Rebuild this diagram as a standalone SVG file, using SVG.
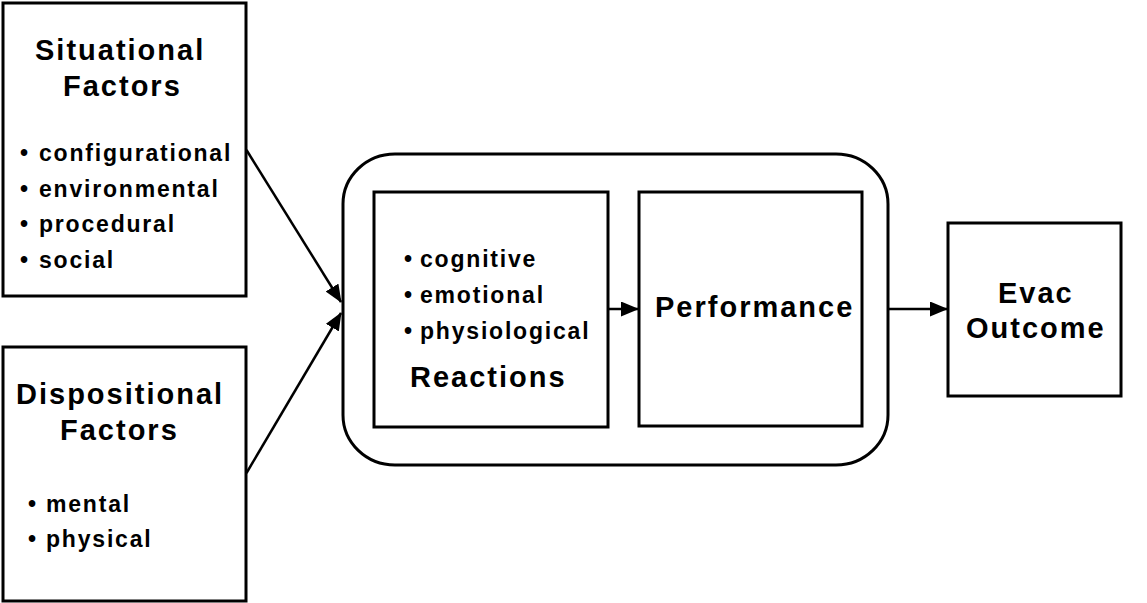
<svg xmlns="http://www.w3.org/2000/svg" width="1147" height="603" viewBox="0 0 1147 603">
<style>
.box{fill:#fff;stroke:#000;stroke-width:3}
.t{font-family:"Liberation Sans",Arial,sans-serif;font-weight:bold;fill:#000}
.h{font-size:29px;letter-spacing:2px}
.b{font-size:23px;letter-spacing:1.8px}
.ln{stroke:#000;stroke-width:2.5;fill:none}
</style>
<defs>
<marker id="ah" markerUnits="userSpaceOnUse" markerWidth="18" markerHeight="15" refX="17" refY="7.5" orient="auto">
<path d="M0,0 L18,7.5 L0,15 z" fill="#000"/>
</marker>
</defs>
<rect width="1147" height="603" fill="#fff"/>
<g id="situational">
<rect class="box" x="3" y="3" width="243" height="293"/>
<text class="t h" x="35" y="60">Situational</text>
<text class="t h" x="63" y="96">Factors</text>
<g class="t b">
<text x="20" y="161">•</text><text x="39" y="161">configurational</text>
<text x="20" y="197">•</text><text x="39" y="197">environmental</text>
<text x="20" y="232">•</text><text x="39" y="232">procedural</text>
<text x="20" y="268">•</text><text x="39" y="268">social</text>
</g>
</g>
<g id="dispositional">
<rect class="box" x="3" y="347" width="243" height="254"/>
<text class="t h" x="16" y="404">Dispositional</text>
<text class="t h" x="60" y="440">Factors</text>
<g class="t b">
<text x="28" y="512">•</text><text x="46" y="512">mental</text>
<text x="28" y="547">•</text><text x="46" y="547">physical</text>
</g>
</g>
<g id="container">
<rect class="box" x="343" y="154" width="545" height="311" rx="52" ry="50"/>
</g>
<g id="reactions">
<rect class="box" x="374" y="192" width="234" height="235"/>
<g class="t b">
<text x="404" y="267">•</text><text x="420" y="267">cognitive</text>
<text x="404" y="303">•</text><text x="420" y="303">emotional</text>
<text x="404" y="339">•</text><text x="420" y="339">physiological</text>
</g>
<text class="t h" x="410" y="387">Reactions</text>
</g>
<g id="performance">
<rect class="box" x="639" y="192" width="223" height="234"/>
<text class="t h" x="655" y="317">Performance</text>
</g>
<g id="evac">
<rect class="box" x="948" y="223" width="173" height="173"/>
<text class="t h" x="998" y="303">Evac</text>
<text class="t h" x="966" y="338">Outcome</text>
</g>
<g id="connectors">
<line class="ln" x1="246.5" y1="150" x2="341" y2="302" marker-end="url(#ah)"/>
<line class="ln" x1="246.5" y1="473" x2="341" y2="313" marker-end="url(#ah)"/>
<line class="ln" x1="608" y1="309" x2="638" y2="309" marker-end="url(#ah)"/>
<line class="ln" x1="888" y1="309" x2="947" y2="309" marker-end="url(#ah)"/>
</g>
</svg>
